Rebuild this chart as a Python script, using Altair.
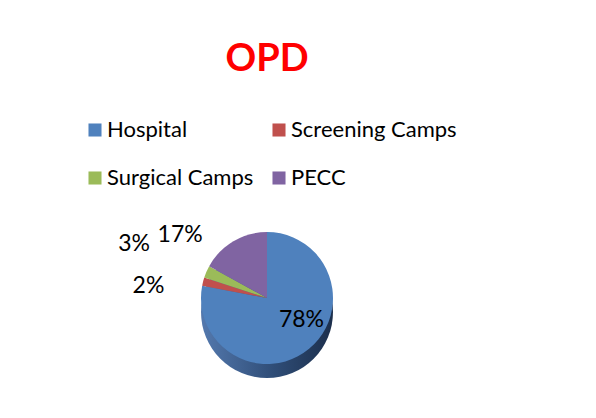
import altair as alt
import pandas as pd

categories = ["Hospital", "Screening Camps", "Surgical Camps", "PECC"]
values = [78, 2, 3, 17]
labels = ["78%", "2%", "3%", "17%"]
colors = ["#4F81BD", "#C0504D", "#9BBB59", "#8064A2"]

df = pd.DataFrame({"category": categories, "value": values, "label": labels})

FONT = "Lato"
R = 66

base = alt.Chart(df).transform_window(idx="row_number()")
theta = alt.Theta("value:Q", stack=True)
order = alt.Order("idx:Q", sort="ascending")

side_fill = alt.LinearGradient(
    gradient="linear",
    stops=[
        alt.GradientStop(color="#5479AE", offset=0),
        alt.GradientStop(color="#2F4D77", offset=0.55),
        alt.GradientStop(color="#1C2F4C", offset=1),
    ],
    x1=0, x2=1, y1=0, y2=0,
)

side = (
    alt.Chart(df)
    .transform_aggregate(total="sum(value)")
    .mark_arc(radius=R, yOffset=14, fill=side_fill)
    .encode(theta=alt.Theta("total:Q"))
)

pie = base.mark_arc(radius=R).encode(
    theta=theta,
    order=order,
    color=alt.Color(
        "category:N",
        scale=alt.Scale(domain=categories, range=colors),
        sort=categories,
        legend=alt.Legend(
            title=None,
            orient="none",
            direction="horizontal",
            legendX=76,
            legendY=-79,
            columns=2,
            columnPadding=14,
            rowPadding=26,
            symbolType="square",
            symbolSize=170,
            symbolStrokeWidth=0,
            labelFontSize=22,
            labelFont=FONT,
            labelColor="#000000",
            labelOffset=1,
            labelLimit=400,
            padding=0,
        ),
    ),
)


def label_layer(name, radius, dx, dy):
    return (
        base.transform_calculate(t=f"datum.category == '{name}' ? datum.label : ''")
        .mark_text(radius=radius, dx=dx, dy=dy, fontSize=23, font=FONT, color="#000000")
        .encode(theta=theta, order=order, text="t:N")
    )


texts = [
    label_layer("Hospital", 40, 9, -9),
    label_layer("Screening Camps", 110, -12, 15),
    label_layer("Surgical Camps", 135, -9, 0),
    label_layer("PECC", 90, -41, 14),
]

chart = (
    alt.layer(side, pie, *texts)
    .properties(
        width=518,
        height=200,
        padding={"left": 0, "top": 190, "right": 0, "bottom": 0},
        autosize=alt.AutoSizeParams(type="none"),
        title=alt.TitleParams(
            "OPD",
            fontSize=38,
            font=FONT,
            fontWeight="bold",
            color="#FF0000",
            anchor="middle",
            baseline="alphabetic",
            offset=10,
        ),
    )
    .configure_view(stroke=None)
    .configure(background="white")
)

chart.save("out.html", embed_options={"renderer": "svg", "actions": False})
